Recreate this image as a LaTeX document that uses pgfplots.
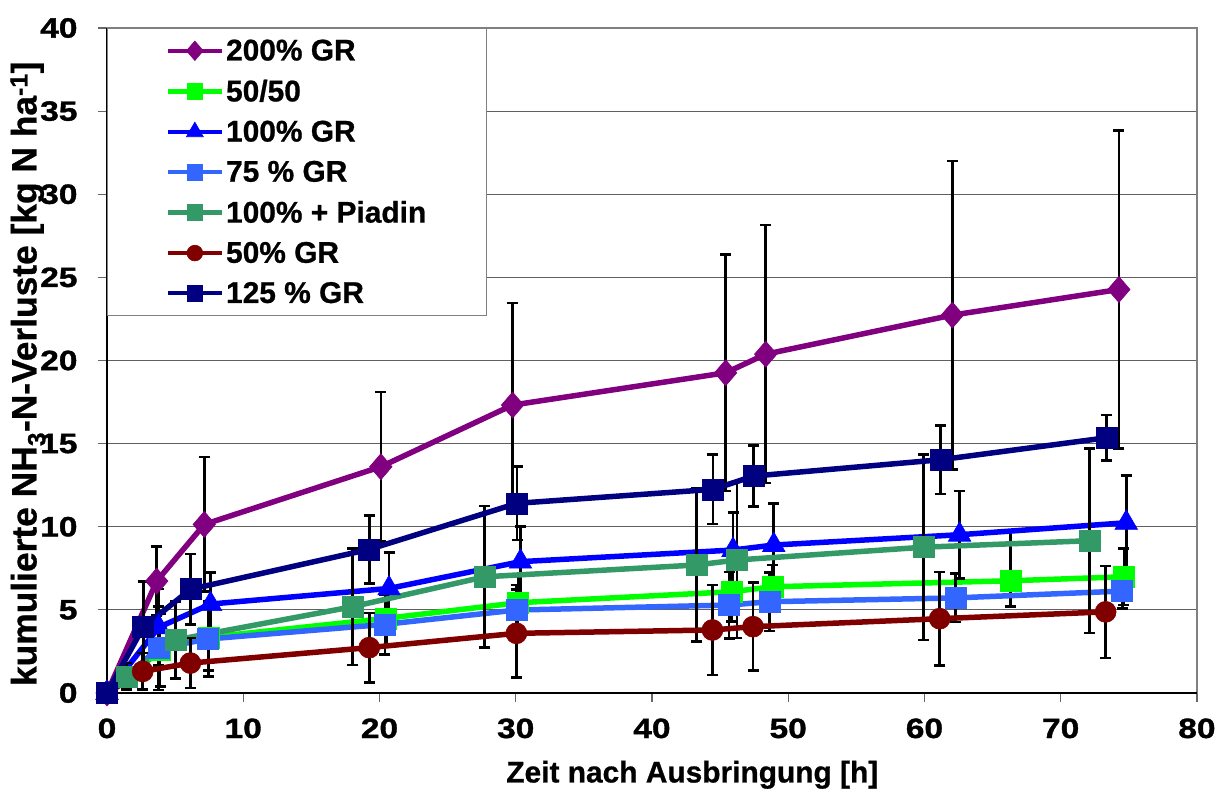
\documentclass[border=0pt]{standalone}
\usepackage{pgfplots}
\pgfplotsset{compat=1.18}
\usepackage{fontspec}
\setmainfont{Liberation Sans}[BoldFeatures={FakeBold=0.8}]
\newfontfamily\tickfamily{Liberation Sans}[FakeStretch=1.2, BoldFeatures={FakeBold=1.3}]

\definecolor{cPurple}{HTML}{800080}
\definecolor{cGreen}{HTML}{00FF00}
\definecolor{cBlue}{HTML}{0000FF}
\definecolor{cLightBlue}{HTML}{3366FF}
\definecolor{cSea}{HTML}{339966}
\definecolor{cDarkRed}{HTML}{800000}
\definecolor{cNavy}{HTML}{000080}

\newcommand{\tickfont}{\tickfamily\bfseries\fontsize{28}{28}\selectfont}
\newcommand{\legfont}{\bfseries\fontsize{30}{30}\selectfont}
\newcommand{\xlabfont}{\bfseries\fontsize{30}{30}\selectfont}
\newcommand{\ylabfont}{\bfseries\fontsize{35.5}{35.5}\selectfont}

\pgfplotsset{
  series/.style={solid, line width=5.5bp, draw=#1,
    mark options={solid, draw=#1, fill=#1, line width=0.6bp},
    error bars/y dir=both, error bars/y explicit,
    error bars/error bar style={solid, black, line width=2.6bp},
    error bars/error mark options={solid, black, rotate=90, mark size=5.5bp, line width=2.6bp}},
}

\begin{document}
\begin{tikzpicture}
\path[use as bounding box] (-107bp,-100bp) rectangle (1108bp,693bp);
\begin{axis}[
  at={(0,0)}, anchor=south west, scale only axis,
  width=1090bp, height=665bp,
  xmin=0, xmax=80, ymin=0, ymax=40,
  xtick={0,10,...,80}, ytick={0,5,...,40},
  tick align=outside, tick pos=left, major tick length=9bp,
  tick style={draw=gray!80!black, line width=1.2bp},
  ymajorgrids, grid style={draw=gray!75!black, line width=1.2bp},
  axis line style={draw=gray, line width=1.5bp},
  clip=false,
  /pgf/number format/assume math mode=true,
  ticklabel style={font=\tickfont},
  xticklabel style={yshift=-13bp},
  yticklabel style={xshift=-17bp},
  xlabel={Zeit nach Ausbringung [h]},
  ylabel={kumulierte NH\textsubscript{3}-N-Verluste [kg N ha\textsuperscript{-1}]},
  xlabel style={font=\xlabfont, at={(axis description cs:0.537,-0.123)}, anchor=center},
  ylabel style={font=\ylabfont, at={(axis description cs:-0.0725,0.480)}, anchor=center},
  legend style={at={(0,1)}, anchor=north west, draw=gray, line width=1.2bp,
    inner xsep=58bp, inner ysep=9bp, font=\legfont, row sep=13.8bp,
    fill=white},
  legend cell align=left,
  legend image code/.code={\draw[mark repeat=2, mark phase=2, line width=4.5bp,
      every mark/.append style={scale=0.75}]
    plot coordinates {(0bp,0bp) (27bp,0bp) (54bp,0bp)};},
]
\draw[black, line width=2.2bp] (rel axis cs:0,1) -- (rel axis cs:0,0) -- (rel axis cs:1,0);

% 200 % GR
\addplot[series=cPurple, mark=diamond*, mark size=13bp,
  mark options={solid, draw=cPurple, fill=cPurple, line width=0.6bp, xscale=1.15}] coordinates {
  (0,0) +- (0,0)
  (3.65,6.73) +- (0,2.07)
  (7.14,10.14) +- (0,4.05)
  (20.1,13.61) +- (0,4.5)
  (29.77,17.32) +- (0,6.13)
  (45.41,19.26) +- (0,7.12)
  (48.35,20.38) +- (0,7.76)
  (62.05,22.73) +- (0,9.28)
  (74.27,24.27) +- (0,9.58)
};
\addlegendentry{200\% GR}

% 50/50
\addplot[series=cGreen, mark=square*, mark size=10.5bp] coordinates {
  (0,0) +- (0,0)
  (3.9,2.6) +- (0,2.2)
  (7.45,3.35) +- (0,2.0)
  (20.5,4.49) +- (0,1.6)
  (30.18,5.43) +- (0,1.7)
  (45.83,6.09) +- (0,1.8)
  (48.84,6.39) +- (0,1.3)
  (66.32,6.75) += (0,3.0) -= (0,1.56)
  (74.64,6.99) +- (0,1.7)
};
\addlegendentry{50/50}

% 100 % GR
\addplot[series=cBlue, mark=triangle*, mark size=13bp] coordinates {
  (0,0) +- (0,0)
  (3.8,3.95) +- (0,2.3)
  (7.6,5.35) +- (0,1.9)
  (20.7,6.29) +- (0,2.15)
  (30.35,7.9) +- (0,2.1)
  (45.95,8.6) +- (0,2.27)
  (48.94,8.9) +- (0,2.5)
  (62.58,9.52) +- (0,2.64)
  (74.81,10.24) +- (0,2.83)
};
\addlegendentry{100\% GR}

% 75 % GR
\addplot[series=cLightBlue, mark=square*, mark size=10.5bp] coordinates {
  (0,0) +- (0,0)
  (3.77,2.69) +- (0,2.5)
  (7.43,3.25) +- (0,2.25)
  (20.4,4.13) +- (0,1.8)
  (30.05,4.99) +- (0,1.5)
  (45.66,5.29) +- (0,2.0)
  (48.64,5.49) +- (0,1.76)
  (62.29,5.72) +- (0,1.45)
  (74.52,6.13) +- (0,1.04)
};
\addlegendentry{75 \% GR}

% 100 % + Piadin
\addplot[series=cSea, mark=square*, mark size=10.5bp] coordinates {
  (0,0) +- (0,0)
  (1.44,1.0) +- (0,0.8)
  (5.03,3.19) +- (0,2.3)
  (18.03,5.19) +- (0,3.5)
  (27.73,6.99) +- (0,4.27)
  (43.27,7.7) +- (0,4.6)
  (46.24,8.0) +- (0,4.7)
  (59.94,8.77) +- (0,5.58)
  (72.12,9.16) +- (0,5.56)
};
\addlegendentry{100\% + Piadin}

% 50 % GR
\addplot[series=cDarkRed, mark=*, mark size=10.5bp] coordinates {
  (0,0) +- (0,0)
  (2.62,1.3) +- (0,1.1)
  (6.12,1.8) +- (0,1.5)
  (19.25,2.73) +- (0,2.09)
  (30.05,3.59) +- (0,2.65)
  (44.44,3.79) +- (0,2.7)
  (47.42,3.99) +- (0,2.65)
  (61.12,4.47) +- (0,2.8)
  (73.3,4.88) +- (0,2.77)
};
\addlegendentry{50\% GR}

% 125 % GR
\addplot[series=cNavy, mark=square*, mark size=10.5bp] coordinates {
  (0,0) +- (0,0)
  (2.66,3.96) +- (0,2.75)
  (6.14,6.24) +- (0,2.12)
  (19.25,8.64) +- (0,2.05)
  (30.1,11.41) +- (0,2.2)
  (44.48,12.25) +- (0,2.08)
  (47.47,13.05) +- (0,1.82)
  (61.17,14.03) +- (0,2.07)
  (73.35,15.35) +- (0,1.36)
};
\addlegendentry{125 \% GR}
\end{axis}
\end{tikzpicture}
\end{document}
